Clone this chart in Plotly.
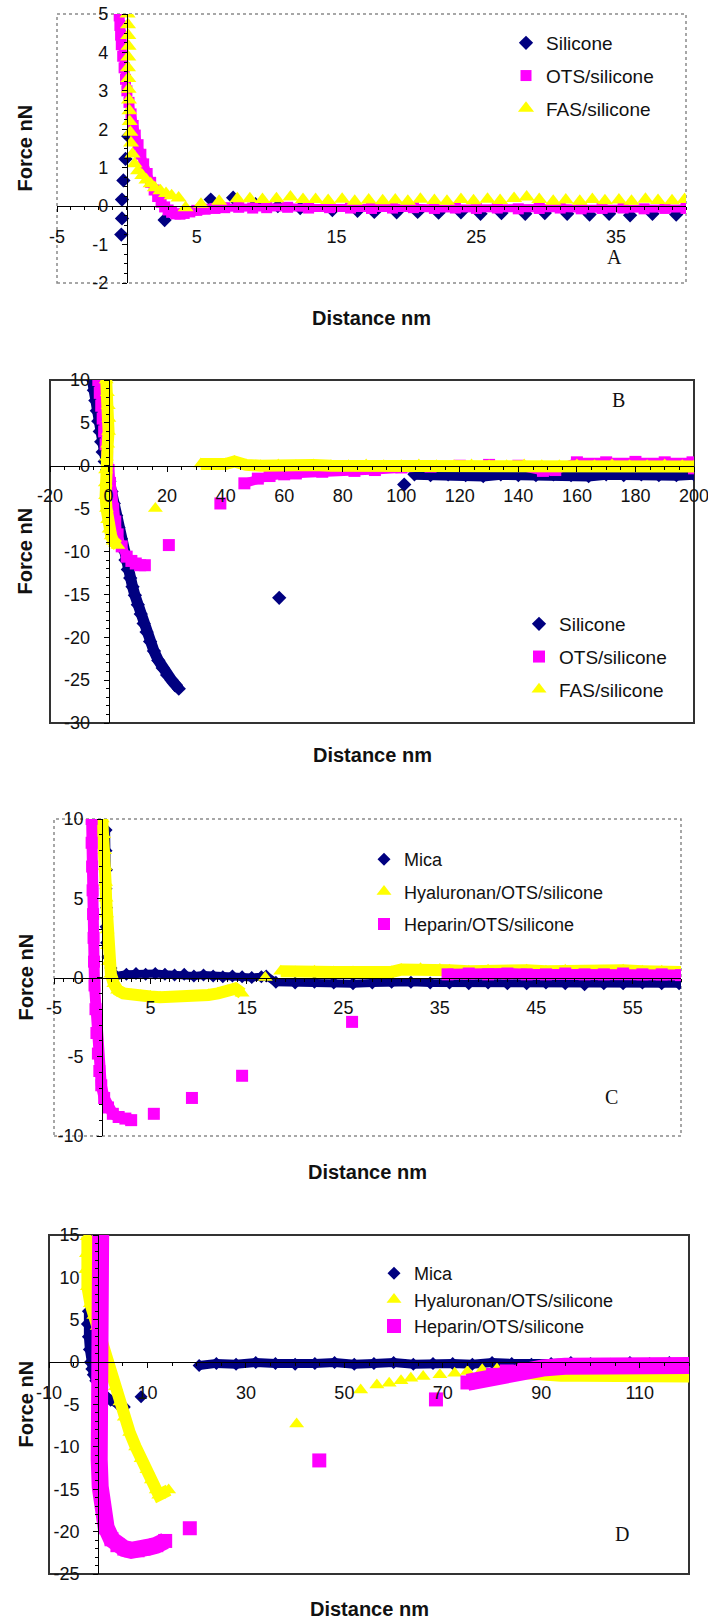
import plotly.graph_objects as go

W, H = 708, 1622
NAVY, MAGENTA, YELLOW = "#000080", "#FF00FF", "#FFFF00"
SANS = "Liberation Sans, Arial, sans-serif"
SERIF = "Liberation Serif, Times New Roman, serif"

# ---------------- Panel A ----------------
a_xticks = [-5, 5, 15, 25, 35]
a_yticks = [-2, -1, 0, 1, 2, 3, 4, 5]
a_sil_x = [-0.4, -0.35, -0.35, -0.25, -0.1, 0.1, 2.7, 6.0, 7.6, 9.2, 10.8, 12.4, 14.7, 16.5, 17.7, 19.3, 20.8,
           22.3, 23.9, 25.3, 26.8, 28.5, 29.9, 31.5, 33.1, 34.5, 36.0, 37.6, 39.3]
a_sil_y = [-0.74, -0.32, 0.17, 0.67, 1.23, 1.82, -0.36, 0.17, 0.22, 0.05, 0.0, -0.05, -0.1, -0.12, -0.15, -0.16,
           -0.15, -0.17, -0.16, -0.2, -0.18, -0.2, -0.18, -0.2, -0.22, -0.2, -0.24, -0.2, -0.22]
a_ots_x = [-0.55, -0.5, -0.45, -0.4, -0.3, -0.2, -0.1, 0.0, 0.15, 0.3, 0.45, 0.6, 0.8, 1.0, 1.2, 1.45, 1.7, 1.95,
           2.2, 2.45, 2.7, 2.95, 3.2, 3.5, 3.8, 4.1, 4.5, 5.0, 5.6, 6.3, 7.0, 8.0, 9.0, 10.0, 11.5, 13.0, 14.5,
           16.0, 17.5, 19.0, 20.5, 22.0, 23.5, 25.0, 26.5, 28.0, 29.5, 31.0, 32.5, 34.0, 35.5, 37.0, 38.5, 40.0]
a_ots_y = [4.95, 4.7, 4.45, 4.2, 3.9, 3.6, 3.3, 3.0, 2.7, 2.4, 2.1, 1.85, 1.6, 1.35, 1.1, 0.85, 0.62, 0.42, 0.25,
           0.1, -0.02, -0.1, -0.16, -0.2, -0.21, -0.19, -0.15, -0.11, -0.08, -0.06, -0.04, -0.03, -0.05, -0.04,
           -0.03, -0.05, -0.04, -0.05, -0.06, -0.05, -0.04, -0.06, -0.05, -0.06, -0.05, -0.07, -0.06, -0.05, -0.07,
           -0.06, -0.05, -0.07, -0.06, -0.06]
a_fas_x = [0.05, 0.08, 0.1, 0.12, 0.1, 0.08, 0.1, 0.12, 0.15, 0.18, 0.2, 0.25, 0.3, 0.4, 0.55, 0.8, 1.1, 1.4, 1.7,
           2.0, 2.4, 2.8, 3.2, 3.7, 4.2, 5.3, 6.6, 7.9, 8.8, 9.7, 10.7, 11.7, 12.6, 13.5, 14.4, 15.4, 16.3, 17.3,
           18.3, 19.2, 20.1, 21.0, 22.0, 22.9, 23.9, 24.8, 25.8, 26.7, 27.7, 28.6, 29.5, 30.5, 31.4, 32.4, 33.3,
           34.2, 35.2, 36.1, 37.1, 38.0, 39.0, 39.9]
a_fas_y = [5.0, 4.72, 4.44, 4.16, 3.88, 3.6, 3.32, 3.04, 2.76, 2.48, 2.2, 1.92, 1.64, 1.36, 1.1, 0.92, 0.8, 0.68,
           0.58, 0.48, 0.4, 0.33, 0.27, 0.21, -0.04, 0.05, 0.13, 0.19, 0.19, 0.17, 0.19, 0.24, 0.17, 0.17, 0.15,
           0.18, 0.13, 0.16, 0.14, 0.16, 0.13, 0.18, 0.15, 0.13, 0.17, 0.14, 0.18, 0.15, 0.2, 0.24, 0.17, 0.13,
           0.16, 0.13, 0.17, 0.14, 0.16, 0.13, 0.18, 0.15, 0.14, 0.17]

# ---------------- Panel B ----------------
b_xticks = [-20, 0, 20, 40, 60, 80, 100, 120, 140, 160, 180, 200]
b_yticks = [-30, -25, -20, -15, -10, -5, 0, 5, 10]
b_sil_x = [-5.5, -5.0, -4.5, -4.0, -3.5, -3.0, -2.5, -2.0, -1.3, -0.5, 0.3, 1.0, 1.8, 2.6, 3.4, 4.2, 5.0, 5.8, 6.6,
           7.4, 8.2, 9.0, 10.0, 11.0, 12.0, 13.0, 14.2, 15.5, 17.0, 18.5, 20.0, 21.5, 23.0, 24.0, None, 58.3, None,
           101.0, None, 104.5, 110, 116, 122, 128, 134, 140, 146, 152, 158, 164, 170, 176, 182, 188, 194, 200]
b_sil_y = [10.0, 8.8, 7.6, 6.4, 5.2, 4.0, 2.8, 1.6, 0.5, -0.5, -1.8, -3.0, -4.4, -5.8, -7.2, -8.5, -9.8, -11.0,
           -12.1, -13.1, -14.1, -15.1, -16.2, -17.3, -18.4, -19.4, -20.5, -21.6, -22.7, -23.6, -24.4, -25.0, -25.6,
           -26.0, None, -15.4, None, -2.2, None, -1.0, -1.1, -1.0, -1.1, -1.2, -1.0, -1.1, -1.1, -1.0, -1.1, -1.2,
           -1.0, -1.1, -1.0, -1.1, -1.1, -1.0]
b_ots_x = [-3.5, -3.0, -2.5, -2.0, -1.5, -1.0, -0.5, 0.0, 0.5, 1.0, 1.6, 2.3, 3.1, 4.5, 6.2, 7.8, 9.3, 10.8, 12.4,
           None, 20.6, None, 38.2, None, 46.4, 51.0, 55.0, 60.0, 64.0, 73.0, 84.0, 91.0, 100, 110, 120, 130, 140,
           148.4, 152.6, 160, 170, 180, 190, 199.5, 200]
b_ots_y = [10.0, 8.5, 7.0, 5.5, 4.0, 2.5, 1.0, -0.5, -2.0, -3.5, -5.0, -6.5, -8.0, -9.4, -10.6, -11.1, -11.4, -11.6,
           -11.6, None, -9.25, None, -4.4, None, -2.05, -1.5, -1.2, -1.0, -0.9, -0.7, -0.6, -0.5, -0.2, -0.1, 0.0,
           0.1, 0.0, -0.6, -0.5, 0.4, 0.4, 0.45, 0.4, 0.4, -0.3]
b_fas_x = [-0.8, -0.4, -0.1, 0.1, 0.0, -0.3, -0.7, -1.0, -1.1, -1.0, -0.7, -0.3, 0.2, 0.9, 1.6, 2.4, 3.2, None,
           16.0, None, 31.5, 36, 40, 43, 47, 52, 58, 64, 70, 76, 82, 88, 94, 100, 106, 112, 118, 124, 130, 136,
           142, 148, 154, 160, 166, 172, 178, 184, 190, 196, 200]
b_fas_y = [10.0, 8.5, 7.0, 5.5, 4.0, 2.5, 1.0, -0.5, -2.0, -3.5, -5.0, -6.3, -7.4, -8.2, -8.8, -9.1, -9.3, None,
           -5.0, None, 0.2, 0.1, 0.2, 0.5, 0.1, 0.0, 0.1, 0.0, 0.1, 0.0, 0.0, 0.1, 0.0, 0.0, 0.1, 0.0, 0.0, 0.1,
           0.0, 0.0, 0.1, 0.0, 0.0, 0.1, 0.0, 0.1, 0.0, 0.0, 0.1, 0.0, -0.1]

# ---------------- Panel C ----------------
c_xticks = [-5, 5, 15, 25, 35, 45, 55]
c_yticks = [-10, -5, 0, 5, 10]
c_mica_x = [0.4, 0.4, 0.45, 0.4, 0.45, 0.4, 0.45, 0.6, 0.9, 1.4, 2.5, 3.5, 4.5, 5.5, 6.5, 7.5, 8.5, 9.5, 10.5,
            11.5, 12.5, 13.5, 14.5, 15.5, 16.5, 17.0, 18.0, 20, 22, 24, 26, 28, 30, 32, 34, 36, 38, 40, 42, 44, 46,
            48, 50, 52, 54, 56, 58, 59.8]
c_mica_y = [9.3, 8.0, 6.8, 5.6, 4.4, 3.2, 2.2, 1.3, 0.6, 0.1, 0.2, 0.25, 0.2, 0.25, 0.2, 0.15, 0.2, 0.1, 0.15,
            0.1, 0.05, 0.1, 0.05, 0.0, 0.05, 0.1, -0.3, -0.35, -0.3, -0.35, -0.4, -0.35, -0.3, -0.3, -0.35, -0.35,
            -0.4, -0.35, -0.4, -0.4, -0.35, -0.4, -0.45, -0.4, -0.4, -0.35, -0.4, -0.4]
c_hya_x = [0.0, 0.15, 0.25, 0.3, 0.35, 0.4, 0.45, 0.5, 0.55, 0.65, 0.9, 1.2, 1.6, 2.2, 3.0, 4.0, 5.0, 6.0, 7.0,
           8.0, 9.0, 10.0, 11.0, 12.0, 13.0, 13.8, 14.5, None, 16.9, None, 18.5, 20, 22, 24, 26, 28, 30, 31, 33,
           35, 36, 38, 40, 42, 44, 46, 48, 50, 52, 54, 56, 58, 60]
c_hya_y = [10.0, 9.0, 8.0, 7.0, 6.0, 5.0, 4.0, 3.0, 2.0, 1.0, 0.2, -0.4, -0.8, -1.0, -1.1, -1.15, -1.2, -1.25,
           -1.25, -1.25, -1.2, -1.2, -1.1, -1.0, -0.85, -0.7, -1.0, None, 0.0, None, 0.4, 0.35, 0.4, 0.35, 0.35,
           0.3, 0.35, 0.5, 0.55, 0.5, 0.45, 0.4, 0.45, 0.4, 0.45, 0.4, 0.45, 0.4, 0.4, 0.45, 0.4, 0.4, 0.35]
c_hep_x = [-1.1, -1.1, -1.05, -1.0, -0.95, -0.9, -0.85, -0.8, -0.7, -0.6, -0.45, -0.3, -0.1, 0.2, 0.6, 1.1, 1.7,
           2.4, 3.0, None, 5.35, None, 9.3, None, 14.5, None, 25.9, None, 35.8, 38, 40, 42, 44, 46, 48, 50, 52,
           54, 56, 58, 60]
c_hep_y = [10.0, 8.5, 7.0, 5.5, 4.0, 2.5, 1.0, -0.5, -2.0, -3.5, -4.8, -5.9, -6.8, -7.6, -8.2, -8.6, -8.8, -8.9,
           -9.0, None, -8.6, None, -7.6, None, -6.2, None, -2.8, None, 0.2, 0.25, 0.2, 0.25, 0.2, 0.2, 0.25, 0.2,
           0.2, 0.25, 0.2, 0.2, 0.15]

# ---------------- Panel D ----------------
d_xticks = [-10, 10, 30, 50, 70, 90, 110]
d_yticks = [-25, -20, -15, -10, -5, 0, 5, 10, 15]
d_mica_x = [-2.0, -2.2, -2.0, -1.8, -1.6, -1.3, -1.0, -0.5, 0.3, 1.2, 2.5, 4.0, 5.3, None, 8.7, None, 20.5, 24,
            28, 32, 36, 40, 44, 48, 52, 56, 60, 64, 68, 72, 76, 80, 84, 88, 92, 96, 100, 104, 108, 112, 116, 120]
d_mica_y = [6.0, 4.5, 3.0, 1.5, 0.0, -0.8, -1.5, -2.2, -3.0, -3.8, -4.5, -5.0, -5.3, None, -4.1, None, -0.4,
            -0.15, -0.25, -0.05, -0.15, -0.25, -0.15, -0.05, -0.25, -0.15, -0.05, -0.25, -0.15, -0.15, -0.25,
            -0.05, -0.15, -0.25, -0.15, -0.05, -0.15, -0.25, -0.05, -0.15, -0.05, -0.15]
d_hya_x = [-2.2, -2.4, -2.5, -2.2, -1.6, -0.9, -0.2, 0.7, 1.6, 2.5, 3.5, 4.4, 5.3, 6.4, 7.6, 8.7, 9.9, 10.8, 11.8,
           12.3, 14.3, None, 40.3, None, 53.3, None, 56.6, None, 59.1, None, 61.5, None, 63.5, None, 66.0, None,
           69.4, None, 72.4, None, 75.0, None, 78.0, None, 81.0, None, 84.0, 87, 90, 94, 98, 102, 106, 110, 114,
           118, 120]
d_hya_y = [14.8, 12.8, 10.9, 8.9, 6.9, 5.5, 4.2, 2.4, 0.6, -1.2, -2.9, -4.7, -6.5, -8.3, -10.0, -11.4, -12.7,
           -13.9, -15.1, -15.7, -15.1, None, -7.3, None, -3.3, None, -2.7, None, -2.5, None, -2.2, None, -1.9,
           None, -1.7, None, -1.5, None, -1.3, None, -1.1, None, -0.9, None, -0.8, None, -1.2, -1.4, -1.5, -1.6,
           -1.6, -1.6, -1.7, -1.6, -1.7, -1.6, -1.7]
d_hep_x = [0.5, 0.4, 0.5, 0.35, 0.45, 0.3, 0.4, 0.25, 0.35, 0.2, 0.4, 1.0, 1.6, 2.7, 3.9, 5.3, 6.7, 8.0, 9.2, 10.5,
           11.8, 13.6, None, 18.6, None, 44.9, None, 68.6, None, 75.0, 77.5, 80.2, 83.0, 86.6, 90.3, 94.8, 99, 104,
           109, 114, 120]
d_hep_y = [15.4, 12.5, 9.5, 6.5, 3.5, 0.5, -2.5, -5.5, -8.5, -11.5, -14.7, -17.5, -19.5, -20.9, -21.6, -22.0,
           -22.2, -22.2, -22.0, -21.8, -21.6, -21.1, None, -19.6, None, -11.6, None, -4.4, None, -2.4, -2.1, -1.5,
           -1.1, -0.9, -0.7, -0.5, -0.45, -0.4, -0.45, -0.4, -0.4]

x_title = "Distance nm"
y_title = "Force nN"

panels = [
    dict(letter="A", frame=(57, 686, 14, 283), xr=(-5, 40), yr=(-2, 5), xticks=a_xticks, yticks=a_yticks,
         xmn=1, ymn=0.25, dotted=True, letter_xy=(614, 257), title_y=318, leg_xy=(506, 24), leg_font=19,
         leg_gap=5,
         series=[("Silicone", a_sil_x, a_sil_y, NAVY, "diamond", 11, 0),
                 ("OTS/silicone", a_ots_x, a_ots_y, MAGENTA, "square", 11, 8),
                 ("FAS/silicone", a_fas_x, a_fas_y, YELLOW, "triangle-up", 14, 0)]),
    dict(letter="B", frame=(50, 694, 380, 723), xr=(-20, 200), yr=(-30, 10), xticks=b_xticks, yticks=b_yticks,
         xmn=5, ymn=1, dotted=False, letter_xy=(618, 400), title_y=755, leg_xy=(519, 605), leg_font=19,
         leg_gap=5,
         series=[("Silicone", b_sil_x, b_sil_y, NAVY, "diamond", 11, 11),
                 ("OTS/silicone", b_ots_x, b_ots_y, MAGENTA, "square", 12, 9),
                 ("FAS/silicone", b_fas_x, b_fas_y, YELLOW, "triangle-up", 13, 12)]),
    dict(letter="C", frame=(54, 681, 819, 1136), xr=(-5, 60), yr=(-10, 10), xticks=c_xticks, yticks=c_yticks,
         xmn=1, ymn=1, dotted=True, letter_xy=(611, 1097), title_y=1172, leg_xy=(364, 841), leg_font=18,
         leg_gap=6,
         series=[("Mica", c_mica_x, c_mica_y, NAVY, "diamond", 10, 8),
                 ("Hyaluronan/OTS/silicone", c_hya_x, c_hya_y, YELLOW, "triangle-up", 13, 12),
                 ("Heparin/OTS/silicone", c_hep_x, c_hep_y, MAGENTA, "square", 12, 11)]),
    dict(letter="D", frame=(49, 689, 1235, 1574), xr=(-10, 120), yr=(-25, 15), xticks=d_xticks, yticks=d_yticks,
         xmn=5, ymn=1, dotted=False, letter_xy=(622, 1534), title_y=1609, leg_xy=(374, 1255), leg_font=18,
         leg_gap=0,
         series=[("Mica", d_mica_x, d_mica_y, NAVY, "diamond", 10, 9),
                 ("Hyaluronan/OTS/silicone", d_hya_x, d_hya_y, YELLOW, "triangle-up", 13, 12),
                 ("Heparin/OTS/silicone", d_hep_x, d_hep_y, MAGENTA, "square", 14, 17)]),
]

fig = go.Figure()
shapes, annotations = [], []
layout_extra = {}

for i, p in enumerate(panels, start=1):
    s = "" if i == 1 else str(i)
    xa, ya = "x" + s, "y" + s
    leg_id = "legend" if i == 1 else f"legend{i}"
    fx0, fx1, fy0, fy1 = p["frame"]
    xdom = [fx0 / W, fx1 / W]
    ydom = [1 - fy1 / H, 1 - fy0 / H]
    (xmin, xmax), (ymin, ymax) = p["xr"], p["yr"]
    zero_y = ydom[0] + (0 - ymin) / (ymax - ymin) * (ydom[1] - ydom[0])
    zero_x = xdom[0] + (0 - xmin) / (xmax - xmin) * (xdom[1] - xdom[0])
    tickfont = dict(family=SANS, size=18, color="#111")
    layout_extra["xaxis" + s] = dict(
        domain=xdom, range=list(p["xr"]), anchor="free", position=zero_y, showline=True, linecolor="black",
        linewidth=1, ticks="outside", ticklen=5, tickcolor="black", tickmode="array",
        tickvals=p["xticks"], ticktext=[str(v) for v in p["xticks"]], ticklabeloverflow="allow",
        minor=dict(ticks="outside", ticklen=3, tickmode="linear", tick0=0, dtick=p["xmn"], tickcolor="black"),
        showgrid=False, zeroline=False, tickfont=tickfont, ticklabelstandoff=9, layer="above traces",
        automargin=False)
    layout_extra["yaxis" + s] = dict(
        domain=ydom, range=list(p["yr"]), anchor="free", position=zero_x, showline=True, linecolor="black",
        linewidth=1, ticks="outside", ticklen=5, tickcolor="black", tickmode="array",
        tickvals=p["yticks"], ticktext=[str(v) for v in p["yticks"]], ticklabeloverflow="allow",
        minor=dict(ticks="outside", ticklen=3, tickmode="linear", tick0=0, dtick=p["ymn"], tickcolor="black"),
        showgrid=False, zeroline=False, tickfont=tickfont, ticklabelstandoff=10, layer="above traces",
        automargin=False)
    if p["dotted"]:
        fl = dict(color="#8a8a8a", width=1.5, dash="dot")
    else:
        fl = dict(color="#333333", width=2)
    shapes.append(dict(type="rect", xref=xa + " domain", yref=ya + " domain", x0=0, x1=1, y0=0, y1=1,
                       line=fl, layer="below"))
    annotations.append(dict(text="<b>" + x_title + "</b>", xref="paper", yref="paper",
                            x=(fx0 + fx1) / 2 / W, y=1 - p["title_y"] / H, showarrow=False,
                            xanchor="center", yanchor="middle", font=dict(family=SANS, size=20, color="#111")))
    annotations.append(dict(text="<b>" + y_title + "</b>", xref="paper", yref="paper", textangle=-90,
                            x=25 / W, y=1 - (fy0 + fy1) / 2 / H, showarrow=False,
                            xanchor="center", yanchor="middle", font=dict(family=SANS, size=20, color="#111")))
    lx, ly = p["letter_xy"]
    annotations.append(dict(text=p["letter"], xref="paper", yref="paper", x=lx / W, y=1 - ly / H,
                            showarrow=False, xanchor="center", yanchor="middle",
                            font=dict(family=SERIF, size=20, color="#111")))
    gx, gy = p["leg_xy"]
    layout_extra[leg_id] = dict(x=gx / W, y=1 - gy / H, xanchor="left", yanchor="top",
                                bgcolor="rgba(0,0,0,0)", font=dict(family=SANS, size=p["leg_font"], color="#111"),
                                tracegroupgap=p["leg_gap"], itemclick=False)
    for name, xs, ys, color, symbol, ms, lw in p["series"]:
        if lw:
            fig.add_trace(go.Scatter(x=xs, y=ys, mode="lines", line=dict(color=color, width=lw),
                                     connectgaps=False, showlegend=False, hoverinfo="skip",
                                     xaxis=xa, yaxis=ya))
        fig.add_trace(go.Scatter(x=xs, y=ys, mode="markers", name=name,
                                 marker=dict(symbol=symbol, size=ms, color=color, line=dict(width=0)),
                                 legend=leg_id, legendgroup=p["letter"] + name, showlegend=True,
                                 xaxis=xa, yaxis=ya))

fig.update_layout(width=W, height=H, autosize=False, margin=dict(l=0, r=0, t=0, b=0, autoexpand=False),
                  paper_bgcolor="white", plot_bgcolor="white", shapes=shapes, annotations=annotations,
                  **layout_extra)

fig.write_html("out.html", config={"displayModeBar": False},
               post_script="document.body.style.margin='0px'; document.body.style.overflow='hidden';")
